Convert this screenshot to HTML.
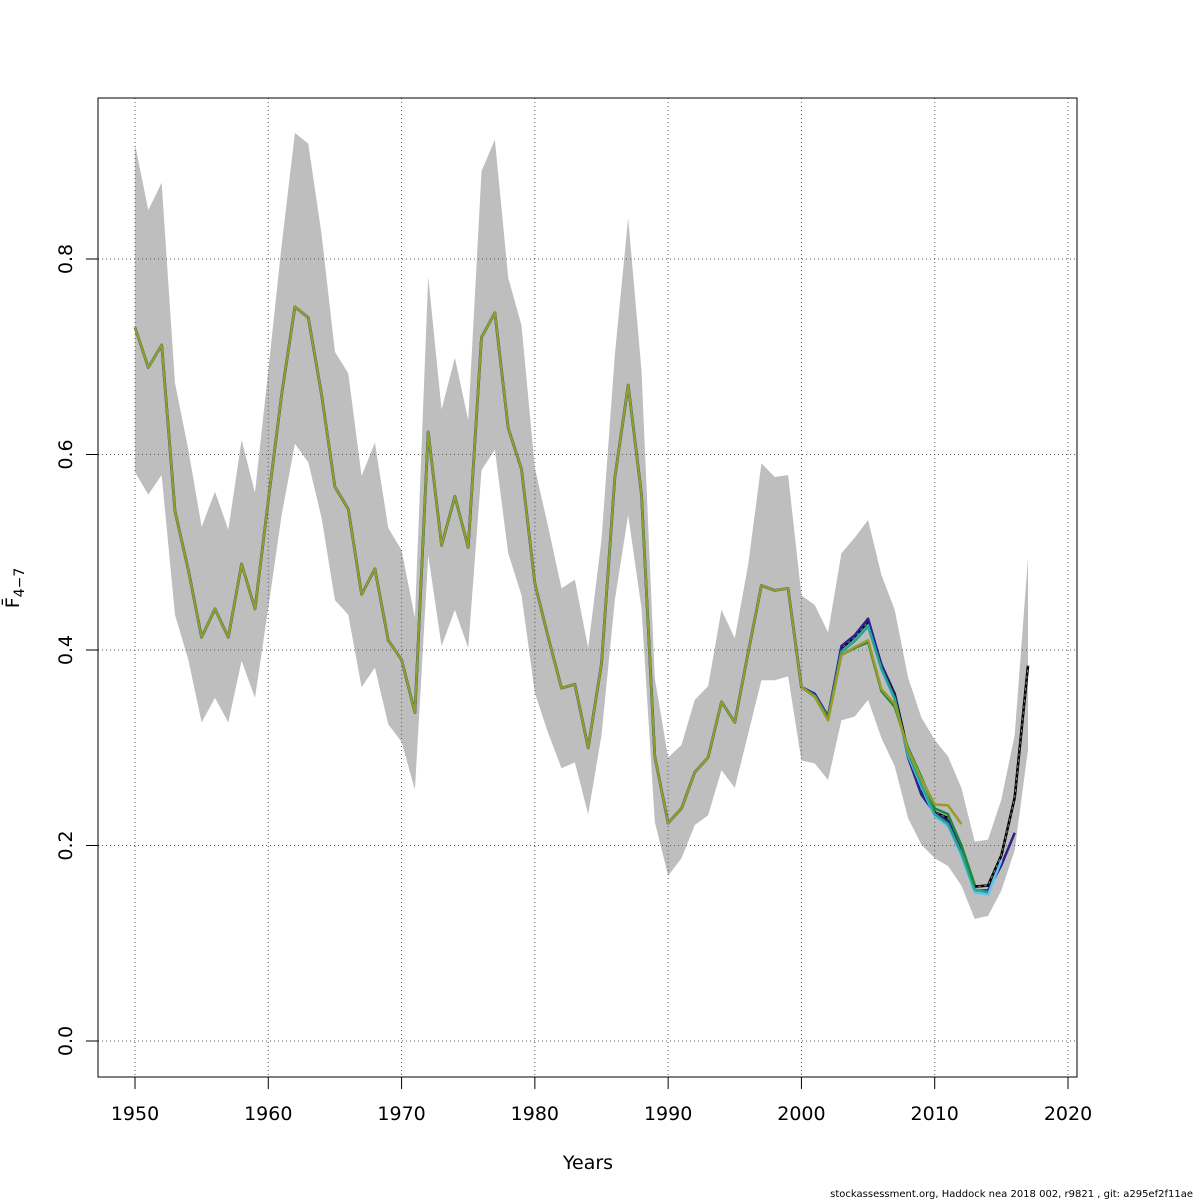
<!DOCTYPE html>
<html><head><meta charset="utf-8"><style>
html,body{margin:0;padding:0;background:#fff;}
svg{display:block;font-family:"DejaVu Sans","Liberation Sans",sans-serif;}
</style></head><body>
<svg id="chart" width="1200" height="1200" viewBox="0 0 1200 1200" xmlns="http://www.w3.org/2000/svg">
<rect x="0" y="0" width="1200" height="1200" fill="#fff"/>
<g id="band"></g>
<g id="grid"></g>
<g id="lines"></g>
<rect x="98" y="98" width="979" height="979" fill="none" stroke="#000" stroke-width="1"/>
<g id="axes"></g>
<text x="588" y="1169" font-size="19" text-anchor="middle">Years</text>
<text transform="translate(19,588) rotate(-90)" font-size="19" text-anchor="middle">F̄<tspan font-size="14" dy="5">4−7</tspan></text>
<text x="1193" y="1197" font-size="10" text-anchor="end">stockassessment.org, Haddock  nea  2018  002, r9821 , git: a295ef2f11ae</text>
</svg>
<script>
const years = [];
for (let y = 1950; y <= 2017; y++) years.push(y);
const fbar = [0.730,0.689,0.712,0.542,0.482,0.413,0.442,0.413,0.488,0.442,0.553,0.661,0.751,0.740,0.661,0.567,0.544,0.457,0.483,0.410,0.390,0.336,0.623,0.507,0.557,0.505,0.720,0.745,0.627,0.585,0.468,0.413,0.361,0.365,0.300,0.386,0.576,0.671,0.559,0.291,0.223,0.238,0.275,0.290,0.347,0.326,0.397,0.466,0.461,0.463,0.362,0.355,0.332,0.402,0.413,0.429,0.385,0.355,0.296,0.257,0.234,0.228,0.200,0.158,0.159,0.190,0.249,0.384];
const upper = [0.917,0.850,0.878,0.673,0.605,0.526,0.562,0.523,0.615,0.561,0.686,0.814,0.929,0.918,0.825,0.705,0.683,0.578,0.612,0.525,0.502,0.433,0.782,0.646,0.699,0.635,0.890,0.922,0.781,0.732,0.586,0.526,0.463,0.472,0.402,0.513,0.702,0.842,0.686,0.371,0.290,0.303,0.349,0.363,0.441,0.412,0.487,0.591,0.577,0.579,0.456,0.446,0.418,0.499,0.515,0.533,0.477,0.441,0.372,0.331,0.308,0.291,0.259,0.204,0.206,0.247,0.313,0.494];
const lower = [0.582,0.559,0.579,0.436,0.390,0.326,0.351,0.326,0.389,0.351,0.443,0.538,0.611,0.592,0.535,0.451,0.436,0.362,0.382,0.324,0.306,0.257,0.497,0.404,0.441,0.402,0.584,0.605,0.499,0.456,0.356,0.315,0.279,0.285,0.232,0.313,0.451,0.538,0.443,0.224,0.169,0.187,0.221,0.231,0.277,0.259,0.314,0.369,0.369,0.373,0.287,0.284,0.267,0.328,0.332,0.349,0.310,0.281,0.228,0.201,0.187,0.179,0.159,0.125,0.128,0.154,0.195,0.298];
const peelStart = 2000;
const peel2016 = [0.362,0.355,0.332,0.404,0.415,0.432,0.385,0.353,0.290,0.252,0.233,0.225,0.195,0.154,0.154,0.180,0.213];
const peel2015 = [0.362,0.353,0.330,0.398,0.410,0.425,0.380,0.350,0.292,0.260,0.230,0.220,0.190,0.152,0.150,0.185];
const peel2014 = [0.362,0.353,0.331,0.398,0.409,0.424,0.381,0.350,0.294,0.262,0.232,0.222,0.192,0.155,0.152];
const peel2013 = [0.362,0.352,0.330,0.395,0.402,0.408,0.358,0.342,0.300,0.270,0.238,0.232,0.200,0.160];
const peel2012 = [0.362,0.352,0.328,0.395,0.403,0.410,0.360,0.345,0.298,0.268,0.242,0.241,0.222];
const xTicks = [1950,1960,1970,1980,1990,2000,2010,2020];
const yTicks = [0.0,0.2,0.4,0.6,0.8];
const yTickLabels = ["0.0","0.2","0.4","0.6","0.8"];

const NS = "http://www.w3.org/2000/svg";
const xs = v => 135 + (v - 1950) * (933 / 70);
const ys = v => 1041 - v * 977.5;
function mk(tag, attrs, parent) {
  const e = document.createElementNS(NS, tag);
  for (const k in attrs) e.setAttribute(k, attrs[k]);
  parent.appendChild(e);
  return e;
}
const band = document.getElementById('band'), grid = document.getElementById('grid'),
      lines = document.getElementById('lines'), axes = document.getElementById('axes');

let pts = years.map((y, i) => xs(y) + ',' + ys(upper[i]));
for (let i = years.length - 1; i >= 0; i--) pts.push(xs(years[i]) + ',' + ys(lower[i]));
const poly = mk('polygon', {points: pts.join(' '), fill: '#bebebe', stroke: 'none'}, band);



xTicks.forEach(t => {
  const l = mk('line', {x1: xs(t), x2: xs(t), y1: 98, y2: 1077, stroke: '#555', 'stroke-width': 1, 'stroke-dasharray': '1,3'}, grid);
  
  
  const tk = mk('line', {x1: xs(t), x2: xs(t), y1: 1077, y2: 1089, stroke: '#000'}, axes);
  
  
  const tx = mk('text', {x: xs(t), y: 1120, 'font-size': 19, 'text-anchor': 'middle'}, axes);
  tx.textContent = t;
  
  
});
yTicks.forEach((t, i) => {
  const l = mk('line', {x1: 98, x2: 1077, y1: ys(t), y2: ys(t), stroke: '#555', 'stroke-width': 1, 'stroke-dasharray': '1,3'}, grid);
  
  
  const tk = mk('line', {x1: 86, x2: 98, y1: ys(t), y2: ys(t), stroke: '#000'}, axes);
  
  
  const tx = mk('text', {transform: 'translate(72,' + ys(t) + ') rotate(-90)', 'font-size': 19, 'text-anchor': 'middle'}, axes);
  tx.textContent = yTickLabels[i];
  
  
});

function path(xv, yv, attrs, name) {
  const d = xv.map((x, i) => (i ? 'L' : 'M') + xs(x).toFixed(1) + ',' + ys(yv[i]).toFixed(1)).join(' ');
  const p = mk('path', Object.assign({d: d, fill: 'none', 'stroke-linejoin': 'round'}, attrs), lines);
  
  
}
path(years, fbar, {stroke: '#000', 'stroke-width': 2.6}, 'fbar-line');
path(years, fbar, {stroke: '#888', 'stroke-width': 1, 'stroke-dasharray': '3,3'}, 'fbar-line-dash');
const peelYears = n => { const a = []; for (let i = 0; i < n; i++) a.push(peelStart + i); return a; };
const earlyYears = years.filter(y => y <= peelStart);
const earlyVals = fbar.slice(0, earlyYears.length);
path(earlyYears, earlyVals, {stroke: '#3a6f8f', 'stroke-width': 2.8, 'stroke-opacity': 0.7}, 'retro-early-outline');
path(earlyYears, earlyVals, {stroke: '#8f9f2a', 'stroke-width': 2.2}, 'retro-early');
path(peelYears(peel2016.length), peel2016, {stroke: '#2a1f8f', 'stroke-width': 2.5}, 'retro-2016');
path(peelYears(peel2015.length), peel2015, {stroke: '#5ec4ea', 'stroke-width': 2.5}, 'retro-2015');
path(peelYears(peel2014.length), peel2014, {stroke: '#2aa38f', 'stroke-width': 2.5}, 'retro-2014');
path(peelYears(peel2013.length), peel2013, {stroke: '#1c8a3c', 'stroke-width': 2.5}, 'retro-2013');
path(peelYears(peel2012.length), peel2012, {stroke: '#9a9a2a', 'stroke-width': 2.5}, 'retro-2012');
</script>
</body></html>
